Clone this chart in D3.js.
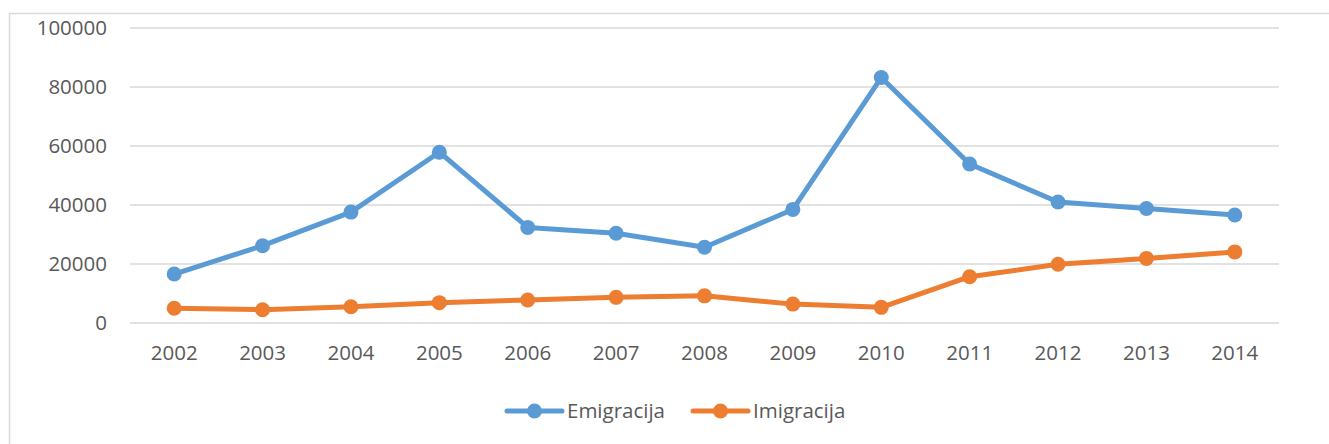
<!DOCTYPE html>
<html>
<head>
<meta charset="utf-8">
<script src="https://cdn.jsdelivr.net/npm/d3@7"></script>
<style>
  html, body { margin: 0; padding: 0; background: #fff; }
  svg { display: block; }
</style>
</head>
<body>
<svg id="chart" width="1329" height="444"></svg>
<script>
const years = ["2002","2003","2004","2005","2006","2007","2008","2009","2010","2011","2012","2013","2014"];
const emigracija = [16600, 26200, 37600, 57900, 32400, 30400, 25700, 38500, 83200, 53900, 41000, 38800, 36600];
const imigracija = [5000, 4500, 5500, 6900, 7800, 8700, 9200, 6400, 5300, 15700, 19900, 21900, 24100];
const yTicks = [0, 20000, 40000, 60000, 80000, 100000];
const seriesNames = ["Emigracija", "Imigracija"];
const seriesColors = ["#5B9BD5", "#ED7D31"];

const W = 1329, H = 444;
const font = "'Open Sans', sans-serif";
const fs = 20.5;
const svg = d3.select("#chart");

// outer frame
svg.append("rect").attr("x", 9.5).attr("y", 13.5).attr("width", W).attr("height", H)
  .attr("fill", "none").attr("stroke", "#D9D9D9").attr("stroke-width", 1.5);

const x = d3.scaleBand().domain(years).range([130, 1279]);
const y = d3.scaleLinear().domain([0, 100000]).range([323, 28]);

// gridlines
svg.append("g").selectAll("line").data(yTicks).join("line")
  .attr("x1", 130).attr("x2", 1279)
  .attr("y1", d => y(d)).attr("y2", d => y(d))
  .attr("stroke", "#D9D9D9").attr("stroke-width", 1.5);

// y axis labels
const yAxis = d3.axisLeft(y).tickValues(yTicks).tickSize(0).tickPadding(0).tickFormat(d3.format("d"));
const gy = svg.append("g").attr("transform", "translate(107,0)").call(yAxis);
gy.select(".domain").remove();
gy.selectAll("text").attr("font-family", font).attr("font-size", fs).attr("fill", "#595959");

// x axis labels
const xAxis = d3.axisBottom(x).tickSize(0).tickPadding(0);
const gx = svg.append("g").attr("transform", "translate(0,343)").call(xAxis);
gx.select(".domain").remove();
gx.selectAll("text").attr("font-family", font).attr("font-size", fs).attr("fill", "#595959").attr("dy", "0.85em");

const cx = d => x(d) + x.bandwidth() / 2;
const line = d3.line().x((d, i) => cx(years[i])).y(d => y(d));

[emigracija, imigracija].forEach((vals, si) => {
  const g = svg.append("g");
  g.append("path").datum(vals).attr("d", line)
    .attr("fill", "none").attr("stroke", seriesColors[si]).attr("stroke-width", 5)
    .attr("stroke-linejoin", "round").attr("stroke-linecap", "round");
  g.selectAll("circle").data(vals).join("circle")
    .attr("cx", (d, i) => cx(years[i])).attr("cy", d => y(d)).attr("r", 7.5)
    .attr("fill", seriesColors[si]);
});

// legend
const legendX = [507, 693];
const leg = svg.append("g");
seriesNames.forEach((name, i) => {
  const lx = legendX[i], ly = 411;
  leg.append("line").attr("x1", lx).attr("x2", lx + 55).attr("y1", ly).attr("y2", ly)
    .attr("stroke", seriesColors[i]).attr("stroke-width", 5).attr("stroke-linecap", "round");
  leg.append("circle").attr("cx", lx + 27.5).attr("cy", ly).attr("r", 7.5).attr("fill", seriesColors[i]);
  leg.append("text").attr("x", lx + 60).attr("y", ly).attr("dy", "0.35em")
    .attr("font-family", font).attr("font-size", fs).attr("fill", "#595959").text(name);
});
</script>
</body>
</html>
